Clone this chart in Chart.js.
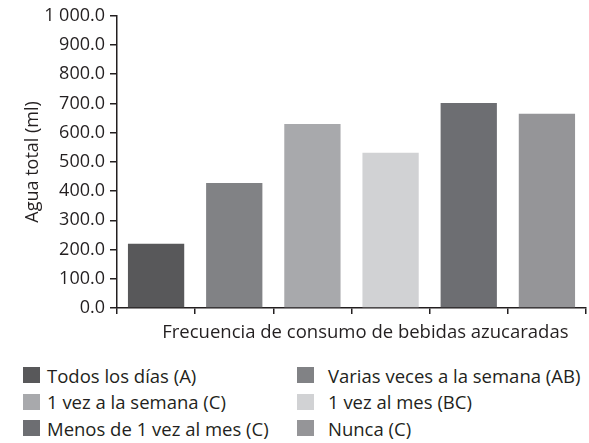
<!DOCTYPE html>
<html>
<head>
<meta charset="utf-8">
<script src="https://cdn.jsdelivr.net/npm/chart.js@4/dist/chart.umd.min.js"></script>
<style>
  body { margin: 0; background: #fff; }
  #wrap { position: relative; width: 589px; height: 443px; font-family: "Open Sans", sans-serif; color: #231f20; }
  #box { position: absolute; left: 0; top: 0; width: 589px; height: 350px; }
  #legend { position: absolute; left: 23px; top: 367px; display: grid; grid-template-columns: 274px auto; row-gap: 10.5px; font-size: 18.5px; }
  .item { display: flex; align-items: center; height: 16px; white-space: nowrap; }
  .sw { width: 17px; height: 16px; margin-right: 7px; flex: none; }
  .item.c2 .sw { margin-right: 14px; }
</style>
</head>
<body>
<div id="wrap">
  <div id="box"><canvas id="chart"></canvas></div>
  <div id="legend"></div>
</div>
<script>
// Agua total por frecuencia de consumo de bebidas azucaradas
const categories = ['Todos los días (A)', 'Varias veces a la semana (AB)', '1 vez a la semana (C)', '1 vez al mes (BC)', 'Menos de 1 vez al mes (C)', 'Nunca (C)'];
const water = [220, 428, 630, 531, 702, 665];
const colors = ['#58585a', '#818285', '#a8a9ac', '#d1d2d4', '#6d6e72', '#959598'];

const fmtTick = v => v >= 1000 ? '1 000.0' : v.toFixed(1);

// legend as html, two columns
const legend = document.getElementById('legend');
categories.forEach((c, i) => {
    const el = document.createElement('div');
    el.className = 'item' + (i % 2 ? ' c2' : '');
    el.innerHTML = '<span class="sw" style="background:' + colors[i] + '"></span>' + c;
    legend.appendChild(el);
});

const ctx = document.getElementById('chart').getContext('2d');
new Chart(ctx, {
    type: 'bar',
    data: {
        labels: categories,
        datasets: [{ data: water, backgroundColor: colors, barPercentage: 0.72, categoryPercentage: 1 }]
    },
    options: {
        responsive: true,
        maintainAspectRatio: false,
        animation: false,
        layout: { padding: { top: 8, right: 3 } },
        plugins: { legend: { display: false }, tooltip: { enabled: false } },
        scales: {
            x: {
                grid: { display: true, drawOnChartArea: false, offset: true, color: '#231f20', tickLength: 6, lineWidth: 1.5 },
                border: { color: '#231f20', width: 1.5 },
                ticks: { display: false },
                // leading spaces push the title a bit right, like the original
                title: { display: true, text: '\u2002\u2002\u2002Frecuencia de consumo de bebidas azucaradas', color: '#231f20', font: { family: 'Open Sans', size: 18.5 }, padding: { top: 6, bottom: 6 } },
                afterFit: s => { s.height = 42; }
            },
            y: {
                min: 0, max: 1000,
                grid: { display: true, drawOnChartArea: false, color: '#231f20', tickLength: 7, lineWidth: 1.5 },
                border: { color: '#231f20', width: 1.5 },
                ticks: { stepSize: 100, color: '#231f20', padding: 5, font: { family: 'Open Sans', size: 18 }, callback: fmtTick },
                title: { display: true, text: 'Agua total (ml)', color: '#231f20', font: { family: 'Open Sans', size: 18 }, padding: { top: 22, bottom: 0 } },
                afterFit: s => { s.width = 117; }
            }
        }
    }
});
</script>
</body>
</html>
